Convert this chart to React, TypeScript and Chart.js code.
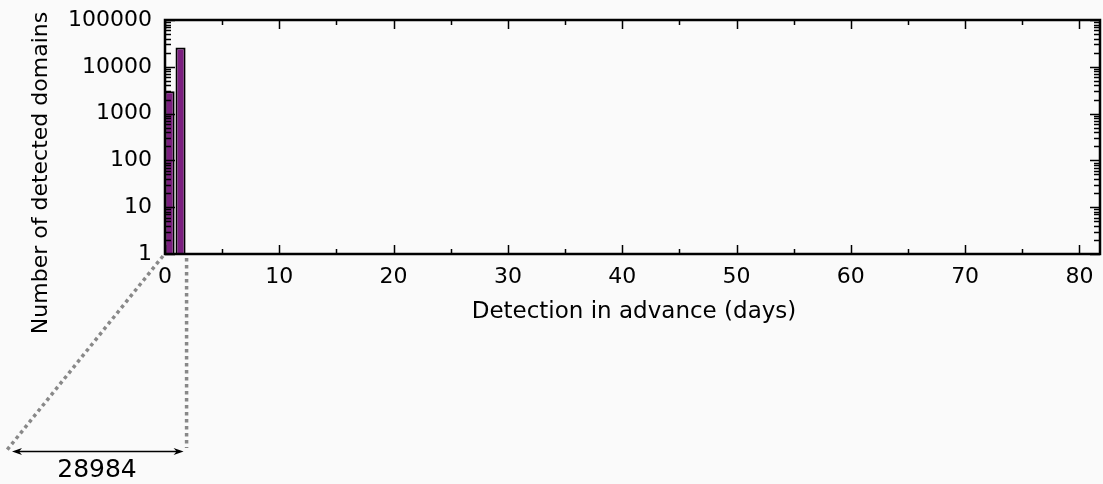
import React, { useEffect, useRef } from "react";
import { Chart, registerables } from "chart.js";

Chart.register(...registerables);

// ---- data ----
const binCenters = [0.4, 1.36];
const counts = [3000, 25984];
const xTickValues = [0, 10, 20, 30, 40, 50, 60, 70, 80];
const yTickValues = [1, 10, 100, 1000, 10000, 100000];
const xTitle = "Detection in advance (days)";
const yTitle = "Number of detected domains";
const totalLabel = String(counts.reduce((a, b) => a + b, 0));

const FONT = "'DejaVu Sans', 'Noto Sans', sans-serif";

const overlayPlugin = {
  id: "overlay",
  beforeDraw(chart: any) {
    const { ctx, width, height } = chart;
    ctx.save();
    ctx.fillStyle = "#fafafa";
    ctx.fillRect(0, 0, width, height);
    ctx.restore();
  },
  afterDatasetsDraw(chart: any) {
    const { ctx, chartArea } = chart;
    const { left, right, top, bottom } = chartArea;
    const xs = chart.scales.x;
    const ys = chart.scales.y;
    ctx.save();
    ctx.strokeStyle = "#000";
    // x ticks (inward, bottom & top)
    ctx.lineWidth = 1.5;
    for (let v = 0; v <= xs.max; v += 5) {
      const px = Math.round(xs.getPixelForValue(v)) + 0.5;
      const len = v % 10 === 0 ? 9 : 5;
      ctx.beginPath();
      ctx.moveTo(px, bottom);
      ctx.lineTo(px, bottom - len);
      ctx.moveTo(px, top);
      ctx.lineTo(px, top + len);
      ctx.stroke();
    }
    // y ticks (inward, left & right), major + minor
    for (let d = 0; d < yTickValues.length; d++) {
      const base = yTickValues[d];
      for (let m = 1; m <= 9; m++) {
        const v = base * m;
        if (v > ys.max) break;
        const py = Math.round(ys.getPixelForValue(v)) + 0.5;
        const len = m === 1 ? 10 : 6;
        ctx.beginPath();
        ctx.moveTo(left, py);
        ctx.lineTo(left + len, py);
        ctx.moveTo(right, py);
        ctx.lineTo(right - len, py);
        ctx.stroke();
      }
    }
    // frame
    ctx.lineWidth = 2.5;
    ctx.strokeRect(left, top, right - left, bottom - top);

    // titles
    ctx.fillStyle = "#000";
    ctx.textAlign = "center";
    ctx.textBaseline = "middle";
    ctx.font = `23px ${FONT}`;
    ctx.fillText(xTitle, 634, 312);
    ctx.save();
    ctx.translate(41, 173);
    ctx.rotate(-Math.PI / 2);
    ctx.font = `22px ${FONT}`;
    ctx.fillText(yTitle, 0, 0);
    ctx.restore();

    // zoom annotation
    const meta = chart.getDatasetMeta(0);
    const bar = meta.data[1];
    const barRight = bar.x + bar.width / 2 + 1;
    ctx.strokeStyle = "#888";
    ctx.lineWidth = 3.5;
    ctx.setLineDash([3.5, 3.5]);
    ctx.beginPath();
    ctx.moveTo(left - 2, bottom + 2);
    ctx.lineTo(7, 450);
    ctx.stroke();
    ctx.beginPath();
    ctx.moveTo(barRight, bottom + 4);
    ctx.lineTo(barRight, 448);
    ctx.stroke();
    ctx.setLineDash([]);

    // double arrow
    const ay = 451.5;
    const ax1 = 12;
    const ax2 = barRight - 3;
    ctx.strokeStyle = "#000";
    ctx.fillStyle = "#000";
    ctx.lineWidth = 1.5;
    ctx.beginPath();
    ctx.moveTo(ax1 + 4, ay);
    ctx.lineTo(ax2 - 4, ay);
    ctx.stroke();
    ctx.beginPath();
    ctx.moveTo(ax1, ay);
    ctx.lineTo(ax1 + 10, ay - 3.5);
    ctx.lineTo(ax1 + 7, ay);
    ctx.lineTo(ax1 + 10, ay + 3.5);
    ctx.closePath();
    ctx.fill();
    ctx.beginPath();
    ctx.moveTo(ax2, ay);
    ctx.lineTo(ax2 - 10, ay - 3.5);
    ctx.lineTo(ax2 - 7, ay);
    ctx.lineTo(ax2 - 10, ay + 3.5);
    ctx.closePath();
    ctx.fill();
    ctx.font = `25px ${FONT}`;
    ctx.textAlign = "center";
    ctx.textBaseline = "middle";
    ctx.fillText(totalLabel, 97, 470);
    ctx.restore();
  },
};

export default function App() {
  const ref = useRef<HTMLCanvasElement | null>(null);
  useEffect(() => {
    document.body.style.margin = "0";
    if (!ref.current) return;
    const chart = new Chart(ref.current, {
      type: "bar",
      data: {
        datasets: [
          {
            data: binCenters.map((x, i) => ({ x, y: counts[i] })),
            backgroundColor: "#7b1f7f",
            borderColor: "#000",
            borderWidth: 2,
            barPercentage: 0.92,
            categoryPercentage: 1,
          },
        ],
      },
      options: {
        animation: false,
        responsive: false,
        maintainAspectRatio: false,
        layout: { padding: { left: 0, top: 20, right: 3, bottom: 0 } },
        plugins: { legend: { display: false }, tooltip: { enabled: false } },
        scales: {
          x: {
            type: "linear",
            min: 0,
            max: 81.8,
            offset: false,
            grid: { display: false, drawTicks: false, offset: false },
            border: { display: false },
            afterBuildTicks: (s: any) => {
              s.ticks = xTickValues.map((v) => ({ value: v }));
            },
            afterFit: (s: any) => {
              s.height = 230;
              s.paddingLeft = 0;
              s.paddingRight = 0;
            },
            ticks: {
              color: "#000",
              font: { family: FONT, size: 22 },
              padding: 10,
              maxRotation: 0,
              autoSkip: false,
              callback: (v: any) => String(v),
            },
          },
          y: {
            type: "logarithmic",
            min: 1,
            max: 100000,
            grid: { display: false, drawTicks: false },
            border: { display: false },
            afterBuildTicks: (s: any) => {
              s.ticks = yTickValues.map((v) => ({ value: v }));
            },
            afterFit: (s: any) => {
              s.width = 165;
              s.paddingTop = 0;
              s.paddingBottom = 0;
            },
            ticks: {
              color: "#000",
              font: { family: FONT, size: 22 },
              padding: 13,
              autoSkip: false,
              callback: (v: any) => String(v),
            },
          },
        },
      },
      plugins: [overlayPlugin],
    });
    return () => chart.destroy();
  }, []);
  return (
    <div style={{ width: 1103, height: 484 }}>
      <canvas ref={ref} width={1103} height={484} style={{ display: "block" }} />
    </div>
  );
}
